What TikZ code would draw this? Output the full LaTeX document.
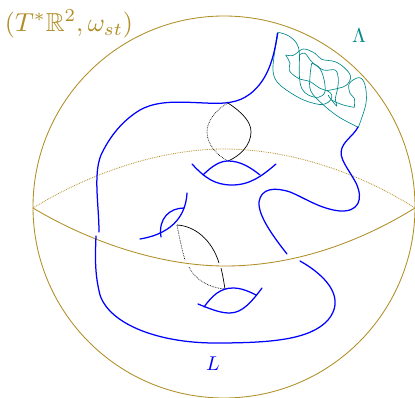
\documentclass[tikz,border=0pt]{standalone}
\usepackage{amssymb}
\usepackage{graphicx}
\definecolor{gold}{RGB}{176,142,38}
\definecolor{tealc}{RGB}{0,136,136}
\tikzset{
 goldline/.style={draw=gold,line width=0.85pt},
 leg/.style={draw=tealc,line width=0.65pt,smooth,tension=0.6},
 blueline/.style={draw=blue,line width=1.25pt,line cap=round},
 lens/.style={draw=black,line width=0.7pt},
 lensdot/.style={draw=black,line width=0.7pt,densely dotted},
}
\begin{document}
\begin{tikzpicture}[x=1pt,y=-1pt]
\useasboundingbox (0,0) rectangle (415,398);
\fill[white] (0,0) rectangle (415,398);
\node[circle,draw=gold,line width=0.85pt,inner sep=0pt,minimum size=382pt] (sphere) at (224,207) {};
\coordinate (eqL) at (33,208);
\coordinate (eqR) at (415,208);
\draw[goldline] (eqL) .. controls (95,245) and (165,266) .. (225,266) .. controls (290,266) and (355,245) .. (eqR);
\draw[draw=gold,line width=0.8pt,densely dotted] (eqL) .. controls (95,170) and (165,149) .. (224,149) .. controls (285,149) and (355,170) .. (eqR);
% Lambda tangle
\begin{scope}[shift={(260,20)},x=0.3333pt,y=-0.3333pt]
\draw[leg] plot coordinates {(55,37) (85,47) (110,70) (118,100) (118,165) (125,205) (145,225) (175,232) (195,215) (190,170) (175,140) (155,130)};
\draw[leg] plot coordinates {(155,130) (150,170) (152,212) (185,250) (235,290) (295,322)};
\draw[leg] plot coordinates {(55,37) (42,110) (40,160) (60,195) (120,235) (170,252) (195,252) (212,240) (215,225) (205,214) (180,205) (150,185) (115,175) (88,152) (90,130) (77,105)};
\draw[leg] plot coordinates {(77,105) (100,106) (130,87) (165,100) (185,118) (225,125) (255,145) (272,170) (260,195) (235,205) (200,212)};
\draw[leg] plot coordinates {(118,105) (135,100) (155,125) (190,150) (225,150) (235,175) (232,210) (226,235) (230,258) (215,240)};
\draw[leg] plot coordinates {(295,322) (318,250) (315,195) (298,173) (268,190) (270,220) (283,235) (283,262)};
\draw[leg] plot coordinates {(283,262) (250,255) (215,240) (205,225)};
\end{scope}
\coordinate (lamTop) at (277.5,33);
\coordinate (lamBot) at (358,127);
% L main curve
\draw[blueline] (lamTop) .. controls (274,58) and (268,80) .. (250,94) .. controls (238,103) and (225,104) .. (205,103) .. controls (180,102) and (158,100) .. (140,110) .. controls (120,122) and (108,140) .. (101,155) .. controls (93,175) and (99,205) .. (99,232);
\draw[blueline] (96,236) .. controls (95,260) and (95,275) .. (100,295) .. controls (110,325) and (160,343) .. (215,343) .. controls (270,343) and (310,340) .. (328,320) .. controls (345,300) and (330,278) .. (300,261);
\draw[blueline] (287,254) .. controls (272,235) and (258,215) .. (259,202) .. controls (261,188) and (275,187) .. (290,192) .. controls (305,198) and (320,209) .. (340,211) .. controls (358,212) and (364,200) .. (356,183) .. controls (348,168) and (338,158) .. (342,148) .. controls (345,140) and (354,135) .. (lamBot);
% upper handle
\coordinate (ha) at (228,103); \coordinate (hb) at (228,161);
\draw[lens] (ha) .. controls (243,113) and (251,122) .. (251,132) .. controls (251,145) and (240,156) .. (hb);
\draw[lensdot] (ha) .. controls (215,110) and (207,122) .. (207,132) .. controls (207,145) and (218,156) .. (hb);
\draw[blueline] (192,164) .. controls (205,178) and (215,185) .. (232,185) .. controls (250,185) and (262,176) .. (276,164);
\draw[blueline] (203,175) .. controls (212,166) and (220,161) .. (hb) .. controls (240,161) and (250,167) .. (260,175);
% lower handle
\coordinate (hc) at (177,225); \coordinate (hd) at (225,289);
\draw[lens] (hc) .. controls (195,226) and (212,240) .. (219,263);
\draw[lens] (221,268) .. controls (223,276) and (224,283) .. (hd);
\draw[lensdot] (hc) .. controls (180,240) and (182,250) .. (185,260);
\draw[lensdot] (189,267) .. controls (195,280) and (210,288) .. (hd);
\draw[blueline] (187,193) .. controls (186,212) and (176,233) .. (140,239);
\draw[blueline] (184,208) .. controls (170,208) and (158,218) .. (161,237);
\draw[blueline] (198,304) .. controls (215,311) and (222,313) .. (230,313) .. controls (243,313) and (253,300) .. (262,288);
\draw[blueline] (204,307) .. controls (212,296) and (220,288) .. (233,288) .. controls (242,288) and (250,292) .. (256,295);
% labels
\node[text=gold,inner sep=0pt] (title) at (69,24) {\scalebox{2.6}{$(T^*\mathbb{R}^2,\omega_{st})$}};
\node[text=tealc,inner sep=0pt] (lamlab) at (359,36) {\scalebox{2}{$\Lambda$}};
\node[text=blue,inner sep=0pt] (Llab) at (213,364) {\scalebox{2}{$L$}};
\end{tikzpicture}
\end{document}
